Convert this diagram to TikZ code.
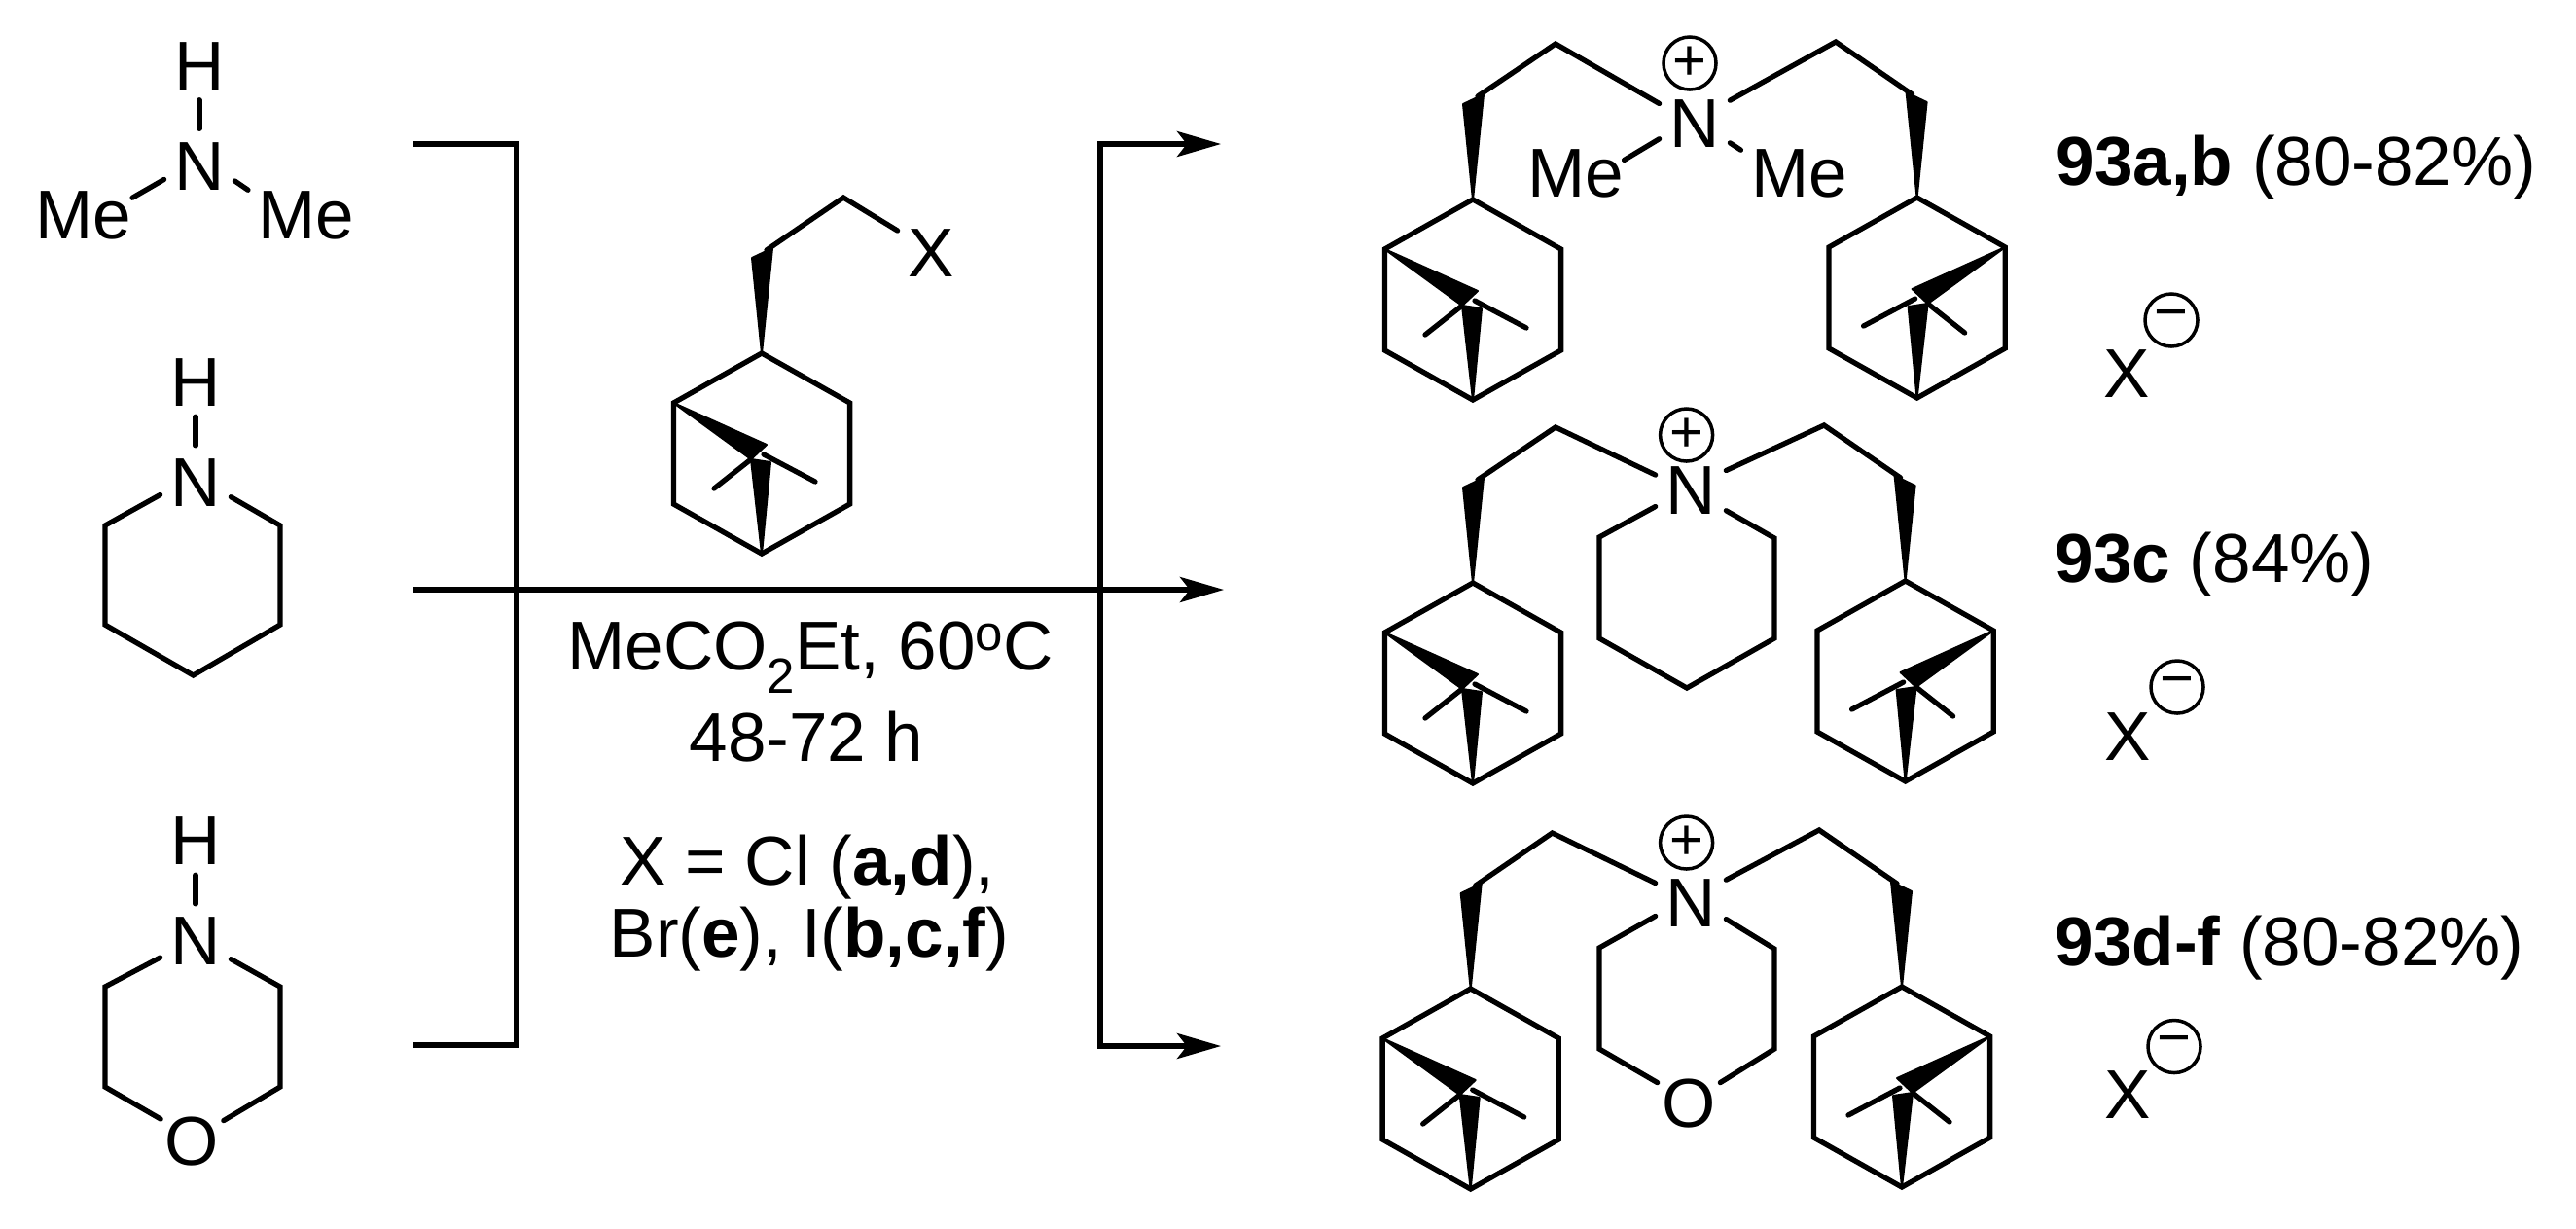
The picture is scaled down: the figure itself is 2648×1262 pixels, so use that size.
\documentclass[tikz,border=0pt]{standalone}
\usepackage{fontspec}
\setmainfont{Liberation Sans}
\usepackage{tikz}
\usetikzlibrary{arrows.meta}

\tikzset{
  bond/.style={line width=0.053cm, line cap=round, line join=miter},
  wedge/.style={fill=black, draw=black, line width=0.02cm, line join=round},
  rxn/.style={line width=0.053cm, line join=miter},
  atom/.style={inner sep=0.1cm, text height=0.52cm, text depth=0cm, anchor=center, font=\fontsize{20.2}{24}\selectfont},
  lbl/.style={inner sep=0cm, font=\fontsize{20.2}{24}\selectfont},
  charge/.style={circle, draw, line width=0.035cm, minimum size=0.54cm, inner sep=0cm, font=\fontsize{17}{17}\selectfont},
  pinane/.pic={
    \coordinate (-c1) at (0,0);
    \coordinate (-c2) at (-90.6,51);
    \coordinate (-c3) at (-90.6,155);
    \coordinate (-c4) at (0,206);
    \coordinate (-c5) at (90.6,155);
    \coordinate (-c6) at (90.6,51);
    \coordinate (-up) at (5,-106);
    \coordinate (-mid) at (-11,109);
    \draw[bond] (-c1) -- (-c2) -- (-c3) -- (-c4) -- (-c5) -- (-c6) -- cycle;
    \filldraw[wedge] (-c1) -- (-10,-98) -- (11,-108) -- cycle;
    \filldraw[wedge] (-c2) -- (5,94) -- (-mid) -- cycle;
    \filldraw[wedge] (-c4) -- (-mid) -- (9,112) -- cycle;
    \draw[bond] (-49,139) -- (-mid);
    \draw[bond] (2,104) -- (55,132);
  }
}

\begin{document}
\begin{tikzpicture}[x=0.01cm, y=-0.01cm, >={Stealth[length=0.45cm, width=0.26cm, inset=0.1cm]}]
  \useasboundingbox (0,0) rectangle (2648,1262);

  % amines on the left
  \node[atom] (a1N) at (205,169) {N};
  \node[atom] (a1H) at (205,66) {H};
  \node[atom, inner sep=0cm] (a1MeL) at (86,219.5) {Me};
  \node[atom] (a1MeR) at (315,219.5) {Me};
  \draw[bond] (a1N) -- (a1H);
  \draw[bond] (a1N.203) -- (a1MeL.18);
  \draw[bond] (a1N.335) -- (a1MeR.158);

  \node[atom] (a2N) at (201,494.5) {N};
  \node[atom] (a2H) at (201,391.5) {H};
  \coordinate (a2c1) at (108,540);
  \coordinate (a2c2) at (108,642);
  \coordinate (a2c3) at (198.6,694);
  \coordinate (a2c4) at (288,642);
  \coordinate (a2c5) at (288,540);
  \draw[bond] (a2N) -- (a2H);
  \draw[bond] (a2N.201) -- (a2c1) -- (a2c2) -- (a2c3) -- (a2c4) -- (a2c5) -- (a2N.336);

  \node[atom] (a3N) at (201,965.5) {N};
  \node[atom] (a3H) at (201,862.5) {H};
  \node[atom, inner sep=0.04cm] (a3O) at (197.5,1171) {O};
  \coordinate (a3c1) at (108,1014);
  \coordinate (a3c2) at (108,1117);
  \coordinate (a3c3) at (288,1117);
  \coordinate (a3c4) at (288,1014);
  \draw[bond] (a3N) -- (a3H);
  \draw[bond] (a3N.207) -- (a3c1) -- (a3c2) -- (a3O.147);
  \draw[bond] (a3O.31) -- (a3c3) -- (a3c4) -- (a3N.331);

  % bracket and arrows
  \coordinate (brT) at (425,148);
  \coordinate (brTc) at (531,148);
  \coordinate (brBc) at (531,1074);
  \coordinate (brB) at (425,1074);
  \coordinate (brM) at (425,606);
  \coordinate (colT) at (1131,148);
  \coordinate (colB) at (1131,1075);
  \coordinate (arrT) at (1255,148);
  \coordinate (arrM) at (1258,606);
  \coordinate (arrB) at (1255,1075);
  \draw[rxn] (brT) -- (brTc) -- (brBc) -- (brB);
  \draw[rxn, ->] (brM) -- (arrM);
  \draw[rxn, <->] (arrT) -- (colT) -- (colB) -- (arrB);

  % reagent
  \pic (rg) at (783,363) {pinane};
  \coordinate (rgc) at (867,203);
  \node[atom] (rgX) at (957,258.5) {X};
  \draw[bond] (rg-up) -- (rgc) -- (rgX.148);
  \node[lbl, anchor=base] (cond1) at (833,688) {MeCO\raisebox{-0.24cm}{\fontsize{14.5}{14.5}\selectfont 2}Et, 60\raisebox{0.2cm}{\fontsize{14.5}{14.5}\selectfont o}C};
  \node[lbl, anchor=base] (cond2) at (829,782) {48-72 h};
  \node[lbl, anchor=base] (cond3) at (830,909) {X = Cl (\textbf{a,d}),};
  \node[lbl, anchor=base] (cond4) at (832,983) {Br(\textbf{e}), I(\textbf{b,c,f})};

  % product 93a,b
  \pic (p1L) at (1514,205) {pinane};
  \pic[xscale=-1] (p1R) at (1970.6,203) {pinane};
  \node[atom] (p1N) at (1742,125) {N};
  \node[charge] (p1plus) at (1737,65) {+};
  \node[atom, inner sep=0cm] (p1MeL) at (1619.5,176) {Me};
  \node[atom] (p1MeR) at (1849.5,176) {Me};
  \coordinate (p1a) at (1599,45);
  \coordinate (p1b) at (1887,43);
  \draw[bond] (p1L-up) -- (p1a) -- (p1N.153);
  \draw[bond] (p1R-up) -- (p1b) -- (p1N.31);
  \draw[bond] (p1N.206) -- (p1MeL.13);
  \draw[bond] (p1N.329) -- (p1MeR.160);
  \node[lbl, anchor=base west] (p1lbl) at (2113,190) {\textbf{93a,b} (80-82\%)};
  \node[atom] (p1X) at (2186.5,382) {X};
  \node[charge] (p1minus) at (2232,329) {−};

  % product 93c
  \pic (p2L) at (1514,599) {pinane};
  \pic[xscale=-1] (p2R) at (1958.6,597) {pinane};
  \node[atom] (p2N) at (1738,502) {N};
  \node[charge] (p2plus) at (1733.6,447) {+};
  \coordinate (p2a) at (1599,439);
  \coordinate (p2b) at (1875,437);
  \coordinate (p2c1) at (1644,552);
  \coordinate (p2c2) at (1644,656);
  \coordinate (p2c3) at (1734,707);
  \coordinate (p2c4) at (1824,656);
  \coordinate (p2c5) at (1824,553);
  \draw[bond] (p2L-up) -- (p2a) -- (p2N.159);
  \draw[bond] (p2R-up) -- (p2b) -- (p2N.27);
  \draw[bond] (p2N.207) -- (p2c1) -- (p2c2) -- (p2c3) -- (p2c4) -- (p2c5) -- (p2N.328);
  \node[lbl, anchor=base west] (p2lbl) at (2112,598) {\textbf{93c} (84\%)};
  \node[atom] (p2X) at (2187,755.5) {X};
  \node[charge] (p2minus) at (2238,706) {−};

  % product 93d-f
  \pic (p3L) at (1511.7,1016) {pinane};
  \pic[xscale=-1] (p3R) at (1955,1014) {pinane};
  \node[atom] (p3N) at (1738,926) {N};
  \node[charge] (p3plus) at (1733.6,866) {+};
  \node[atom, inner sep=0.04cm] (p3O) at (1736,1132) {O};
  \coordinate (p3a) at (1595.6,856);
  \coordinate (p3b) at (1870,853);
  \coordinate (p3c1) at (1644,974);
  \coordinate (p3c2) at (1644,1078);
  \coordinate (p3c3) at (1824,1078);
  \coordinate (p3c4) at (1824,975);
  \draw[bond] (p3L-up) -- (p3a) -- (p3N.153);
  \draw[bond] (p3R-up) -- (p3b) -- (p3N.31);
  \draw[bond] (p3N.203) -- (p3c1) -- (p3c2) -- (p3O.149);
  \draw[bond] (p3O.31) -- (p3c3) -- (p3c4) -- (p3N.333);
  \node[lbl, anchor=base west] (p3lbl) at (2112,992) {\textbf{93d-f} (80-82\%)};
  \node[atom] (p3X) at (2187,1123) {X};
  \node[charge] (p3minus) at (2235,1075.5) {−};
\end{tikzpicture}
\end{document}
